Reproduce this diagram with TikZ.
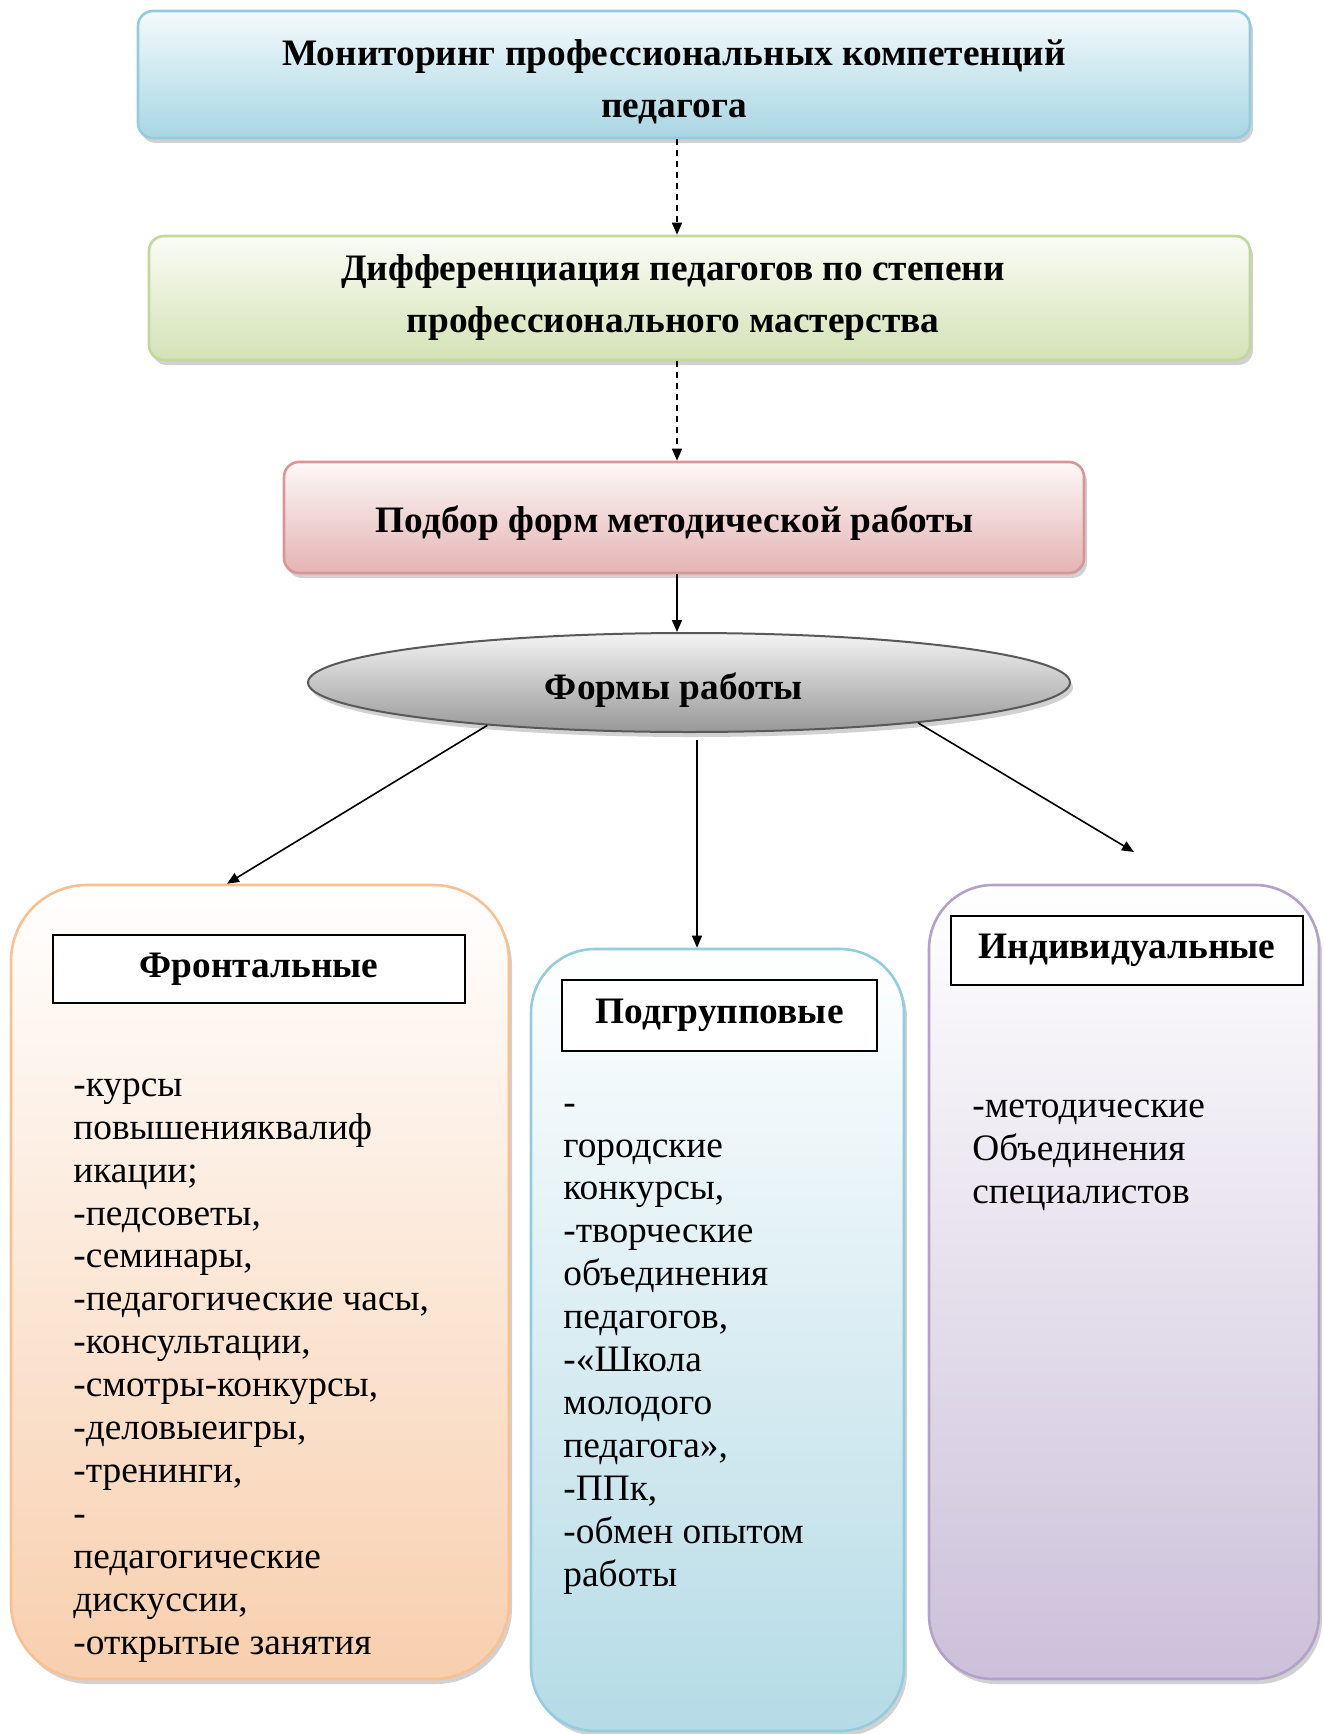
\documentclass[tikz,border=0pt]{standalone}
\usepackage{fontspec}
\setmainfont{Liberation Serif}
\usetikzlibrary{arrows.meta,shapes.geometric,shadows,calc}
\definecolor{bAt}{HTML}{F4FAFC}\definecolor{bAb}{HTML}{A8D6E3}\definecolor{bAd}{HTML}{93CDDD}
\definecolor{bBt}{HTML}{FAFCF5}\definecolor{bBb}{HTML}{D4E2B6}\definecolor{bBd}{HTML}{C3D69B}
\definecolor{bCt}{HTML}{FDF8F8}\definecolor{bCb}{HTML}{E4B4B3}\definecolor{bCd}{HTML}{D99694}
\definecolor{elT}{HTML}{F4F4F4}\definecolor{elB}{HTML}{989898}\definecolor{elD}{HTML}{595959}
\definecolor{orB}{HTML}{F8CFAE}\definecolor{orD}{HTML}{FAC090}
\definecolor{blB}{HTML}{B5DBE6}\definecolor{blD}{HTML}{93CDDD}
\definecolor{puB}{HTML}{CCC0DA}\definecolor{puD}{HTML}{B3A2C7}
\begin{document}
\begin{tikzpicture}[x=0.5pt,y=-0.5pt,
  ttl/.style={font=\fontsize{18.67}{26}\selectfont\bfseries, align=center, text=black, inner sep=0pt},
  shd/.style={drop shadow={shadow xshift=1.5pt, shadow yshift=-2.5pt, opacity=0.3, fill=black!60}},
  topbox/.style={shd, rectangle, rounded corners=7.5pt, line width=1.3pt, inner sep=0pt},
  bigbox/.style={shd, rectangle, line width=1.3pt, inner sep=0pt},
  hdr/.style={draw=black, fill=white, line width=0.6pt, rectangle, inner sep=0pt, font=\fontsize{18.67}{22}\selectfont\bfseries},
  lst/.style={font=\fontsize{18.67}{21.45}\selectfont, align=left, inner sep=0pt, anchor=base west},
  arr/.style={line width=0.8pt, -{Triangle[length=6pt,width=5pt]}},
  darr/.style={arr, dash pattern=on 3pt off 2.5pt},
]
\useasboundingbox (0,0) rectangle (1323,1734);

% top boxes
\node[topbox, draw=bAd, top color=bAt, bottom color=bAb, minimum width=556pt, minimum height=63.5pt] (b1) at (694,74.5) {};
\node[ttl] (t1) at (674,74.5) {\rule{0pt}{20pt}Мониторинг профессиональных компетенций\\педагога};
\node[topbox, draw=bBd, top color=bBt, bottom color=bBb, minimum width=550.5pt, minimum height=62pt] (b2) at (699.5,298) {};
\node[ttl] (t2) at (673,298) {Дифференциация педагогов по степени\\профессионального мастерства};
\node[topbox, draw=bCd, top color=bCt, bottom color=bCb, minimum width=400pt, minimum height=55.5pt] (b3) at (684,517.5) {};
\node[ttl] (t3) at (675,517.5) {\rule{0pt}{19pt}Подбор форм методической работы};

% ellipse
\node[ellipse, shd, draw=elD, line width=1pt, top color=elT, bottom color=elB, minimum width=381pt, minimum height=49.5pt, inner sep=0pt] (e) at (689,682.5) {};
\node[ttl] (te) at (674,682.5) {\rule{0pt}{21pt}Формы работы};

% big boxes
\node[bigbox, rounded corners=38pt, draw=orD, top color=white, bottom color=orB, minimum width=249pt, minimum height=397pt] (fr) at (260,1282) {};
\node[bigbox, rounded corners=32pt, draw=blD, top color=white, bottom color=blB, minimum width=186.5pt, minimum height=391pt] (pg) at (717.5,1340) {};
\node[bigbox, rounded corners=32pt, draw=puD, top color=white, bottom color=puB, minimum width=195pt, minimum height=397pt] (iv) at (1124,1282) {};

% headers
\node[hdr, minimum width=206pt, minimum height=34pt] (frh) at (259,969) {Фронтальные};
\node[hdr, minimum width=157.5pt, minimum height=35.5pt] (pgh) at (719.5,1015.5) {Подгрупповые};
\node[hdr, minimum width=176pt, minimum height=34.5pt] (ivh) at (1127,950.5) {Индивидуальные};

% lists (base anchor = baseline of last line)
\node[lst] (frl) at (73,1654) {-курсы\\повышенияквалиф\\икации;\\-педсоветы,\\-семинары,\\-педагогические часы,\\-консультации,\\-смотры-конкурсы,\\-деловыеигры,\\-тренинги,\\-\\педагогические\\дискуссии,\\-открытые занятия};
\node[lst] (pgl) at (563,1586) {-\\городские\\конкурсы,\\-творческие\\объединения\\педагогов,\\-«Школа\\молодого\\педагога»,\\-ППк,\\-обмен опытом\\работы};
\node[lst] (ivl) at (972,1203) {-методические\\Объединения\\специалистов};

% connectors
\coordinate (ax) at (677,0);
\draw[darr] (b1.south -| ax) -- (b2.north -| ax);
\draw[darr] (b2.south -| ax) -- (b3.north -| ax);
\draw[arr] (b3.south -| ax) -- (e.north -| ax);
\coordinate (lx) at (227,0);
\draw[arr] (e.192) -- (fr.north -| lx);
\coordinate (mx) at (697,0);
\draw[arr] ($(e.south -| mx)+(0,7)$) -- (pg.north -| mx);
\coordinate (rend) at (1134,852);
\draw[arr] (e.350.5) -- (rend);
\end{tikzpicture}
\end{document}
